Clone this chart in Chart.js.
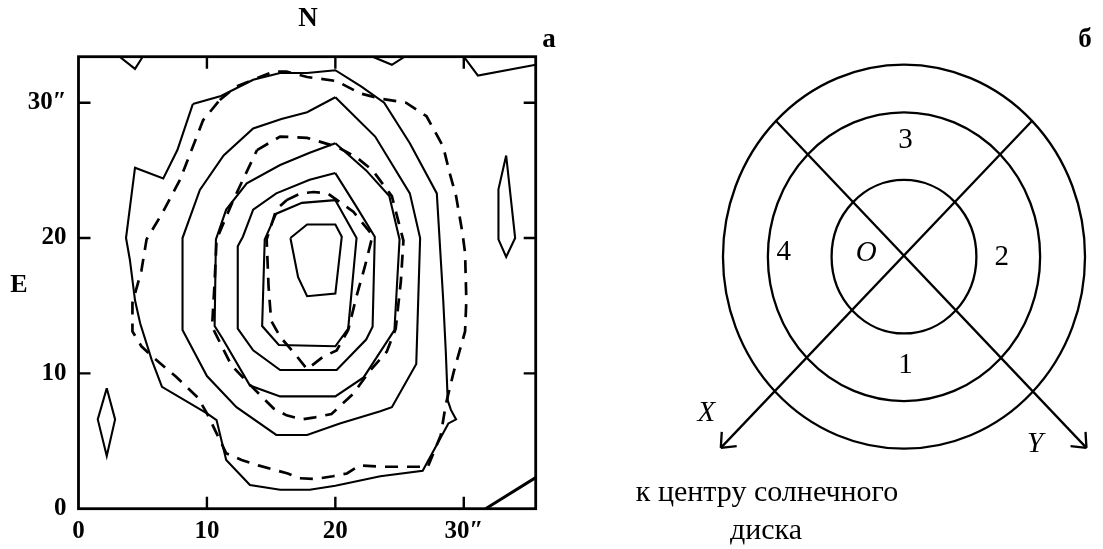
<!DOCTYPE html>
<html>
<head>
<meta charset="utf-8">
<script src="https://cdn.jsdelivr.net/npm/chart.js@4.4.1/dist/chart.umd.min.js"></script>
<style>
  body { margin: 0; background: #fff; width: 1103px; height: 549px; position: relative; overflow: hidden;
         font-family: 'Liberation Serif', 'Times New Roman', serif; color: #000; }
  #mapChart { position: absolute; left: 0; top: 0; }
  #schemeChart { position: absolute; left: 600px; top: 0; }
  .lbl { position: absolute; transform: translate(-50%, -50%); white-space: nowrap; line-height: 1; }
  .b { font-weight: bold; }
</style>
</head>
<body>
<canvas id="mapChart" width="560" height="549"></canvas>
<canvas id="schemeChart" width="503" height="549"></canvas>

<div class="lbl b" style="left:308px; top:17px; font-size:27px;">N</div>
<div class="lbl b" style="left:19px; top:284px; font-size:26px;">E</div>
<div class="lbl b" style="left:549px; top:38px; font-size:27px;">а</div>
<div class="lbl b" style="left:1085px; top:38px; font-size:27px;">б</div>
<div class="lbl" style="left:767px; top:491px; font-size:30px;">к центру солнечного</div>
<div class="lbl" style="left:766px; top:529px; font-size:30px;">диска</div>

<script>
// ---- panel a: contour map (arcsec) ----
const xTicks = [0, 10, 20, 30];
const yTicks = [0, 10, 20, 30];
const xTickLabels = ['0', '10', '20', '30″'];
const yTickLabels = ['0', '10', '20', '30″'];

// solid contours, outer to inner
const solidA = [[8.9,29.9],[11.1,30.5],[13.6,31.7],[15.7,32.2],[17.8,32.2],[20.0,32.4],[22.0,31.2],[23.8,30.0],
  [25.8,27.0],[27.9,23.3],[28.4,15.4],[28.6,11.6],[28.75,8.0],[29.0,7.3],[29.4,6.6],[28.8,6.3],[26.8,2.8],
  [23.5,2.4],[20.0,1.7],[18.0,1.4],[15.7,1.4],[13.35,1.75],[11.5,3.6],[10.75,6.55],[10.0,7.05],[6.5,9.0],
  [5.7,11.0],[4.8,13.7],[4.4,15.4],[4.0,18.4],[3.7,20.0],[4.4,25.2],[6.6,24.4],[7.7,26.5],[8.9,29.9]];
const solidB = [[20.0,30.4],[17.8,29.3],[15.8,28.8],[13.6,28.1],[11.3,26.1],[9.45,23.55],[8.1,20.0],[8.1,13.2],
  [10.0,9.8],[12.3,7.5],[15.4,5.45],[17.8,5.45],[20.35,6.3],[23.5,7.2],[24.4,7.5],[26.3,10.7],[26.6,20.0],
  [25.8,23.3],[23.1,27.5],[20.0,30.4]];
const solidC = [[20.0,27.0],[18.0,26.3],[15.7,25.4],[13.1,24.05],[11.5,22.1],[10.7,19.9],[10.6,13.5],[11.2,12.6],
  [13.35,9.1],[15.7,8.3],[20.0,8.3],[22.2,9.7],[24.6,13.2],[25.0,19.9],[24.2,23.1],[22.4,25.0],[20.0,27.0]];
const solidD = [[20.0,24.8],[18.0,24.3],[15.4,23.3],[13.6,22.1],[12.8,20.1],[12.4,19.4],[12.4,13.3],[13.6,11.7],
  [15.7,10.25],[20.1,10.25],[22.4,12.5],[22.9,13.45],[23.07,20.1],[21.65,22.3],[20.0,24.8]];
const solidE = [[20.0,22.8],[17.4,22.6],[15.4,21.8],[14.5,19.9],[14.3,13.5],[15.6,12.1],[20.0,12.0],[21.0,13.3],
  [21.65,20.0],[20.0,22.8]];
const solidF = [[16.5,20.0],[17.8,21.0],[20.0,21.0],[20.5,20.1],[20.0,15.9],[17.8,15.7],[17.1,17.1],[16.5,20.0]];
const islandLeft = [[2.2,8.9],[1.5,6.6],[2.2,3.9],[2.85,6.6],[2.2,8.9]];
const islandRight = [[33.3,26.1],[32.7,23.6],[32.7,19.9],[33.3,18.6],[34.0,20.0],[33.3,26.1]];
const edgeTopLeft = [[3.2,33.4],[4.4,32.5],[5.0,33.4]];
const edgeTopMid = [[22.9,33.4],[24.4,32.8],[25.4,33.4]];
const edgeTopRight = [[30.0,33.4],[31.1,32.0],[35.6,32.8]];
const edgeBottomRight = [[31.7,0],[35.6,2.3]];

// dashed contours
const dashedOuter = [[11.0,30.2],[12.3,31.2],[15.2,32.3],[16.2,32.3],[17.8,31.9],[20.1,31.6],[21.9,30.7],[23.5,30.3],
  [25.5,30.0],[27.1,29.0],[28.4,26.75],[28.9,24.8],[29.4,23.1],[29.9,20.35],[30.1,18.9],[30.2,15.4],[30.1,13.1],
  [29.2,10.05],[28.6,7.7],[28.2,5.4],[27.2,3.1],[23.5,3.1],[21.9,3.2],[20.9,2.6],[19.8,2.4],[18.5,2.2],[17.2,2.25],
  [16.3,2.6],[14.0,3.2],[12.7,3.6],[11.5,4.1],[10.0,7.05],[9.3,8.2],[7.6,9.75],[5.8,11.2],[4.9,12.0],[4.2,13.1],
  [4.2,15.2],[4.9,17.6],[5.3,19.9],[6.5,21.8],[7.9,24.3],[9.7,28.7],[11.0,30.2]];
const dashedMid = [[13.9,26.5],[15.7,27.5],[17.8,27.4],[20.1,26.75],[21.6,26.0],[22.9,25.0],[24.4,23.1],[25.3,19.8],
  [25.1,16.8],[24.7,13.3],[24.0,11.6],[22.7,10.2],[21.4,8.5],[19.7,7.0],[18.4,6.75],[17.4,6.6],[16.2,6.9],
  [15.2,7.4],[14.25,8.3],[13.2,9.3],[11.9,10.6],[10.4,13.45],[10.6,16.75],[10.75,19.9],[12.05,22.8],[12.8,24.3],
  [13.9,26.5]];
const dashedInner = [[16.2,22.8],[17.3,23.3],[18.3,23.4],[19.4,23.3],[21.4,21.95],[22.9,20.2],[22.3,17.9],
  [21.65,15.7],[21.0,13.2],[20.1,11.7],[19.0,11.2],[17.8,10.3],[16.8,11.5],[15.7,12.7],[15.0,13.9],[14.8,16.4],
  [14.65,19.9],[15.4,22.1],[16.2,22.8]];

// ---- panel б: scheme ----
const ringRadii = [1.0, 1.88, 2.5];
const axisToX = [[1.77, 1.77], [-2.53, -2.49]];
const axisToY = [[-1.77, 1.77], [2.52, -2.49]];
const schemeLabels = ['3', '2', '1', '4', 'O', 'X', 'Y'];
const schemeLabelX = [0.02, 1.35, 0.02, -1.66, -0.52, -2.73, 1.81];
const schemeLabelY = [1.51, -0.01, -1.42, 0.05, 0.04, -2.04, -2.45];

const toXY = pts => pts.map(p => ({ x: p[0], y: p[1] }));
const serif = "'Liberation Serif', 'Times New Roman', serif";

function contour(pts, dashed, width) {
  return {
    data: toXY(pts),
    showLine: true,
    borderColor: '#000',
    borderWidth: width || (dashed ? 2.7 : 2.1),
    borderDash: dashed ? [13, 9] : [],
    pointRadius: 0,
    tension: 0,
    fill: false,
  };
}

// frame with inward ticks on all four sides
const framePlugin = {
  id: 'frame',
  afterDatasetsDraw(chart) {
    const { ctx, chartArea: a, scales: { x, y } } = chart;
    ctx.save();
    ctx.strokeStyle = '#000';
    ctx.lineWidth = 2.8;
    ctx.strokeRect(a.left, a.top, a.right - a.left, a.bottom - a.top);
    ctx.lineWidth = 2.4;
    ctx.beginPath();
    xTicks.forEach(v => {
      if (v === 0) return;
      const px = x.getPixelForValue(v);
      ctx.moveTo(px, a.bottom); ctx.lineTo(px, a.bottom - 12);
      ctx.moveTo(px, a.top); ctx.lineTo(px, a.top + 12);
    });
    yTicks.forEach(v => {
      if (v === 0) return;
      const py = y.getPixelForValue(v);
      ctx.moveTo(a.left, py); ctx.lineTo(a.left + 12, py);
      ctx.moveTo(a.right, py); ctx.lineTo(a.right - 12, py);
    });
    ctx.stroke();
    ctx.restore();
  }
};

new Chart(document.getElementById('mapChart'), {
  type: 'scatter',
  data: {
    datasets: [
      contour(solidA), contour(solidB), contour(solidC), contour(solidD), contour(solidE), contour(solidF),
      contour(islandLeft), contour(islandRight),
      contour(edgeTopLeft), contour(edgeTopMid), contour(edgeTopRight), contour(edgeBottomRight, false, 3),
      contour(dashedOuter, true), contour(dashedMid, true), contour(dashedInner, true),
    ],
  },
  options: {
    responsive: false,
    animation: false,
    layout: { padding: { left: 0, top: 56.7, right: 24.3, bottom: 0 } },
    plugins: { legend: { display: false }, tooltip: { enabled: false } },
    scales: {
      x: {
        type: 'linear', min: 0, max: 35.6,
        grid: { display: false, drawTicks: false },
        border: { display: false },
        afterBuildTicks: s => { s.ticks = xTicks.map(v => ({ value: v })); },
        afterFit: s => { s.height = 40.3; },
        ticks: {
          callback: (v, i) => xTickLabels[i],
          color: '#000', padding: 8, maxRotation: 0, autoSkip: false,
          font: { family: serif, size: 25, weight: 'bold' },
        },
      },
      y: {
        type: 'linear', min: 0, max: 33.4,
        grid: { display: false, drawTicks: false },
        border: { display: false },
        afterBuildTicks: s => { s.ticks = yTicks.map(v => ({ value: v })); },
        afterFit: s => { s.width = 78.5; },
        ticks: {
          callback: (v, i) => yTickLabels[i],
          color: '#000', padding: 12, autoSkip: false,
          font: { family: serif, size: 25, weight: 'bold' },
        },
      },
    },
  },
  plugins: [framePlugin],
});

// rings, arrowheads and labels of the scheme
const schemePlugin = {
  id: 'scheme',
  beforeDatasetsDraw(chart) {
    const { ctx, scales: { x, y } } = chart;
    const cx = x.getPixelForValue(0), cy = y.getPixelForValue(0);
    ctx.save();
    ctx.strokeStyle = '#000';
    ctx.lineWidth = 2.3;
    ringRadii.forEach(r => {
      ctx.beginPath();
      ctx.ellipse(cx, cy, x.getPixelForValue(r) - cx, cy - y.getPixelForValue(r), 0, 0, Math.PI * 2);
      ctx.stroke();
    });
    ctx.restore();
  },
  afterDatasetsDraw(chart) {
    const { ctx, scales: { x, y } } = chart;
    ctx.save();
    ctx.strokeStyle = '#000';
    ctx.lineWidth = 2.3;
    chart.data.datasets.forEach(ds => {
      const n = ds.data.length;
      const x0 = x.getPixelForValue(ds.data[n - 2].x), y0 = y.getPixelForValue(ds.data[n - 2].y);
      const x1 = x.getPixelForValue(ds.data[n - 1].x), y1 = y.getPixelForValue(ds.data[n - 1].y);
      const back = Math.atan2(y0 - y1, x0 - x1);
      ctx.beginPath();
      [-1, 1].forEach(s => {
        const t = back + s * 0.7;
        ctx.moveTo(x1, y1);
        ctx.lineTo(x1 + 16 * Math.cos(t), y1 + 16 * Math.sin(t));
      });
      ctx.stroke();
    });
    ctx.fillStyle = '#000';
    ctx.textAlign = 'center';
    ctx.textBaseline = 'middle';
    schemeLabels.forEach((t, i) => {
      const italic = ['O', 'X', 'Y'].includes(t);
      ctx.font = (italic ? 'italic ' : '') + '29px ' + serif;
      ctx.fillText(t, x.getPixelForValue(schemeLabelX[i]), y.getPixelForValue(schemeLabelY[i]));
    });
    ctx.restore();
  }
};

new Chart(document.getElementById('schemeChart'), {
  type: 'scatter',
  data: {
    datasets: [axisToX, axisToY].map(a => ({
      data: toXY(a), showLine: true, borderColor: '#000', borderWidth: 2.3, pointRadius: 0, tension: 0,
    })),
  },
  options: {
    responsive: false,
    animation: false,
    layout: { padding: { left: 57.8, top: 10.9, right: 3.5, bottom: 31.2 } },
    plugins: { legend: { display: false }, tooltip: { enabled: false } },
    scales: {
      x: { type: 'linear', min: -3.4, max: 2.7, display: false },
      y: { type: 'linear', min: -3.4, max: 3.2, display: false },
    },
  },
  plugins: [schemePlugin],
});
</script>
</body>
</html>
